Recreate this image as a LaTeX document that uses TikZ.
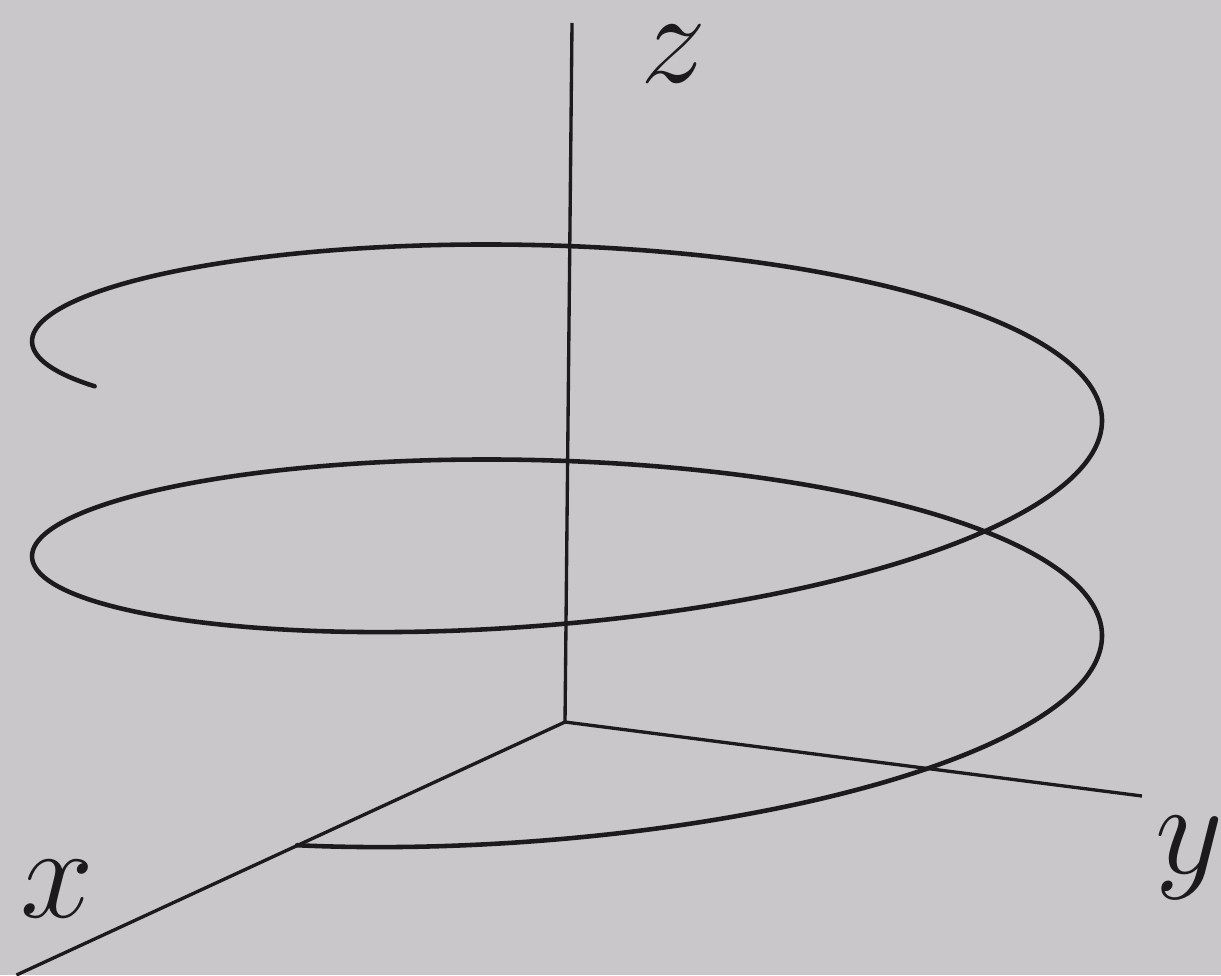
\documentclass[tikz,border=0pt]{standalone}
\usepackage{graphicx}
\definecolor{paper}{RGB}{201,199,201}
\definecolor{ink}{RGB}{28,26,28}
\newcommand{\biglabel}[1]{\scalebox{1.511}{$#1$}}
\tikzset{
  axisline/.style={draw=ink, line width=0.95pt},
  helixline/.style={draw=ink, line width=1.3pt, line cap=round},
  axislabel/.style={text=ink, inner sep=0pt, font=\fontsize{24.88}{30}\selectfont}
}
\begin{document}
\begin{tikzpicture}[x=0.1mm, y=-0.1mm]
  \fill[paper] (0,0) rectangle (1221,975);
  \useasboundingbox (0,0) rectangle (1221,975);
  \coordinate (O) at (565,722);
  \coordinate (zt) at (572,23);
  \coordinate (yt) at (1142,796);
  \coordinate (xt) at (16.5,975);
  \draw[axisline] (O) -- (zt);
  \draw[axisline] (O) -- (yt);
  \draw[axisline] (O) -- (xt);
  \draw[helixline] plot[domain=-30.3:658, samples=400, smooth]
    ({567 + 535*sin(\x)}, {703.5 - 0.597222*\x + 135*cos(\x) - 14*sin(\x)});
  \node[axislabel] (zl) at (673,54) {\biglabel{z}};
  \node[axislabel] (xl) at (57,889) {\biglabel{x}};
  \node[axislabel] (yl) at (1189,858) {\biglabel{y}};
\end{tikzpicture}
\end{document}
